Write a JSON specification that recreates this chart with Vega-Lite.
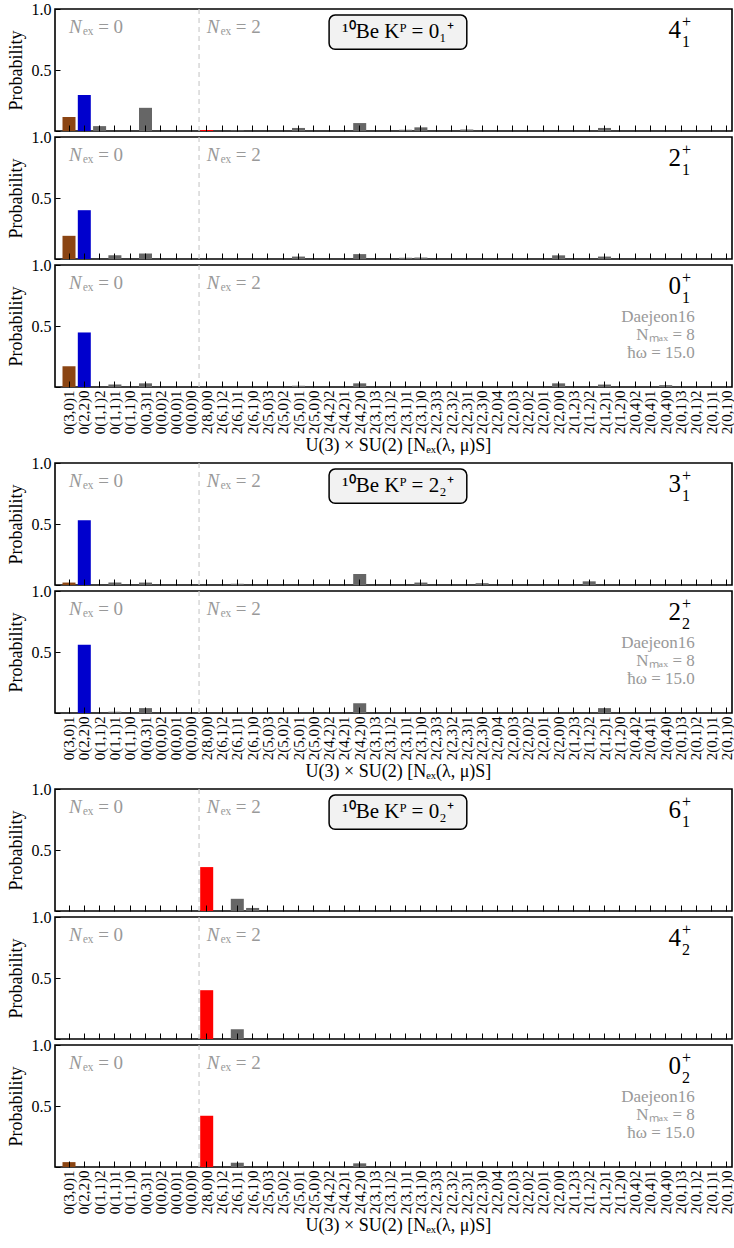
{
  "$schema": "https://vega.github.io/schema/vega-lite/v6.json",
  "padding": {"left": 6, "top": 0, "right": 0, "bottom": 0},
  "config": {
    "font": "Liberation Serif",
    "text": {"font": "Liberation Serif"},
    "view": {"stroke": "#000000", "strokeWidth": 1.6},
    "axis": {"labelFont": "Liberation Serif", "titleFont": "Liberation Serif", "labelColor": "#000", "titleColor": "#000", "tickColor": "#000", "titleFontWeight": "normal", "grid": false, "domain": false}
  },
  "datasets": {
    "probs": [
      {"panel": "4_1", "state": "0(3,0)1", "prob": 0.115},
      {"panel": "4_1", "state": "0(2,2)0", "prob": 0.295},
      {"panel": "4_1", "state": "0(1,1)2", "prob": 0.04},
      {"panel": "4_1", "state": "0(0,3)1", "prob": 0.19},
      {"panel": "4_1", "state": "2(8,0)0", "prob": 0.008},
      {"panel": "4_1", "state": "2(6,1)1", "prob": 0.005},
      {"panel": "4_1", "state": "2(5,0)1", "prob": 0.025},
      {"panel": "4_1", "state": "2(4,2)0", "prob": 0.065},
      {"panel": "4_1", "state": "2(3,1)1", "prob": 0.01},
      {"panel": "4_1", "state": "2(3,1)0", "prob": 0.03},
      {"panel": "4_1", "state": "2(2,3)1", "prob": 0.012},
      {"panel": "4_1", "state": "2(1,2)1", "prob": 0.025},
      {"panel": "2_1", "state": "0(3,0)1", "prob": 0.19},
      {"panel": "2_1", "state": "0(2,2)0", "prob": 0.4},
      {"panel": "2_1", "state": "0(1,1)1", "prob": 0.03},
      {"panel": "2_1", "state": "0(0,3)1", "prob": 0.045},
      {"panel": "2_1", "state": "2(5,0)1", "prob": 0.02},
      {"panel": "2_1", "state": "2(4,2)0", "prob": 0.04},
      {"panel": "2_1", "state": "2(3,1)1", "prob": 0.01},
      {"panel": "2_1", "state": "2(3,1)0", "prob": 0.012},
      {"panel": "2_1", "state": "2(2,0)0", "prob": 0.03},
      {"panel": "2_1", "state": "2(1,2)1", "prob": 0.02},
      {"panel": "0_1", "state": "0(3,0)1", "prob": 0.17},
      {"panel": "0_1", "state": "0(2,2)0", "prob": 0.447},
      {"panel": "0_1", "state": "0(1,1)1", "prob": 0.02},
      {"panel": "0_1", "state": "0(0,3)1", "prob": 0.03},
      {"panel": "0_1", "state": "2(5,0)1", "prob": 0.01},
      {"panel": "0_1", "state": "2(4,2)0", "prob": 0.03},
      {"panel": "0_1", "state": "2(2,0)0", "prob": 0.03},
      {"panel": "0_1", "state": "2(1,2)1", "prob": 0.02},
      {"panel": "0_1", "state": "2(0,4)0", "prob": 0.015},
      {"panel": "3_1", "state": "0(3,0)1", "prob": 0.02},
      {"panel": "3_1", "state": "0(2,2)0", "prob": 0.53},
      {"panel": "3_1", "state": "0(1,1)1", "prob": 0.02},
      {"panel": "3_1", "state": "0(0,3)1", "prob": 0.02},
      {"panel": "3_1", "state": "2(6,1)1", "prob": 0.01},
      {"panel": "3_1", "state": "2(4,2)0", "prob": 0.09},
      {"panel": "3_1", "state": "2(3,1)0", "prob": 0.02},
      {"panel": "3_1", "state": "2(2,3)0", "prob": 0.015},
      {"panel": "3_1", "state": "2(1,2)2", "prob": 0.03},
      {"panel": "2_2", "state": "0(2,2)0", "prob": 0.56},
      {"panel": "2_2", "state": "0(1,1)1", "prob": 0.01},
      {"panel": "2_2", "state": "0(0,3)1", "prob": 0.04},
      {"panel": "2_2", "state": "2(4,2)0", "prob": 0.08},
      {"panel": "2_2", "state": "2(1,2)1", "prob": 0.04},
      {"panel": "6_1", "state": "2(8,0)0", "prob": 0.36},
      {"panel": "6_1", "state": "2(6,1)1", "prob": 0.1},
      {"panel": "6_1", "state": "2(6,1)0", "prob": 0.025},
      {"panel": "4_2", "state": "2(8,0)0", "prob": 0.4},
      {"panel": "4_2", "state": "2(6,1)1", "prob": 0.08},
      {"panel": "0_2", "state": "0(3,0)1", "prob": 0.04},
      {"panel": "0_2", "state": "2(8,0)0", "prob": 0.42},
      {"panel": "0_2", "state": "2(6,1)1", "prob": 0.035},
      {"panel": "0_2", "state": "2(4,2)0", "prob": 0.03}
    ]
  },
  "spacing": -2,
  "resolve": {"scale": {"x": "independent", "y": "independent"}},
  "vconcat": [
    {
      "spacing": 6, "bounds": "flush",
      "resolve": {"scale": {"x": "independent", "y": "independent"}},
      "vconcat": [
        {
          "width": 677, "height": 122,
          "layer": [
            {"data": {"name": "probs"}, "transform": [{"filter": "datum.panel === '4_1'"}],
             "mark": {"type": "bar", "width": {"band": 0.85}},
             "encoding": {
               "x": {"field": "state", "type": "nominal", "scale": {"domain": ["0(3,0)1","0(2,2)0","0(1,1)2","0(1,1)1","0(1,1)0","0(0,3)1","0(0,0)2","0(0,0)1","0(0,0)0","2(8,0)0","2(6,1)2","2(6,1)1","2(6,1)0","2(5,0)3","2(5,0)2","2(5,0)1","2(5,0)0","2(4,2)2","2(4,2)1","2(4,2)0","2(3,1)3","2(3,1)2","2(3,1)1","2(3,1)0","2(2,3)3","2(2,3)2","2(2,3)1","2(2,3)0","2(2,0)4","2(2,0)3","2(2,0)2","2(2,0)1","2(2,0)0","2(1,2)3","2(1,2)2","2(1,2)1","2(1,2)0","2(0,4)2","2(0,4)1","2(0,4)0","2(0,1)3","2(0,1)2","2(0,1)1","2(0,1)0"], "range": [6.35, 679.55], "paddingInner": 0, "paddingOuter": 0},
                 "axis": {"title": null, "labels": false, "tickSize": -6, "zindex": 1}},
               "y": {"field": "prob", "type": "quantitative", "scale": {"domain": [0, 1], "nice": false},
                 "axis": {"title": "Probability", "titleFontSize": 18, "titlePadding": 6, "values": [0, 0.125, 0.25, 0.375, 0.5, 0.625, 0.75, 0.875, 1], "labelExpr": "datum.value === 0.5 || datum.value === 1 ? format(datum.value, '.1f') : ''", "labelFontSize": 16, "tickSize": -5, "labelPadding": 9, "zindex": 1}},
               "color": {"condition": [{"test": "datum.state === '0(3,0)1'", "value": "#8B4513"}, {"test": "datum.state === '0(2,2)0'", "value": "#0000CD"}, {"test": "datum.state === '2(8,0)0'", "value": "#FF0000"}], "value": "#666666"}
             }},
            {"data": {"values": [{}]}, "mark": {"type": "rule", "color": "#cccccc", "strokeDash": [5, 4], "strokeWidth": 1.2},
             "encoding": {"x": {"datum": "2(8,0)0", "bandPosition": 0}}},
            {"data": {"values": [{}]}, "mark": {"type": "text", "text": "N", "fontStyle": "italic", "align": "left", "baseline": "alphabetic", "fontSize": 19, "color": "#999999"},
             "encoding": {"x": {"datum": "0(3,0)1", "bandPosition": 0.5}, "y": {"datum": 0.8}}},
            {"data": {"values": [{}]}, "mark": {"type": "text", "text": "ₑₓ = 0", "align": "left", "baseline": "alphabetic", "fontSize": 19, "dx": 14, "color": "#999999"},
             "encoding": {"x": {"datum": "0(3,0)1", "bandPosition": 0.5}, "y": {"datum": 0.8}}},
            {"data": {"values": [{}]}, "mark": {"type": "text", "text": "N", "fontStyle": "italic", "align": "left", "baseline": "alphabetic", "fontSize": 19, "color": "#999999"},
             "encoding": {"x": {"datum": "2(8,0)0", "bandPosition": 0.5}, "y": {"datum": 0.8}}},
            {"data": {"values": [{}]}, "mark": {"type": "text", "text": "ₑₓ = 2", "align": "left", "baseline": "alphabetic", "fontSize": 19, "dx": 14, "color": "#999999"},
             "encoding": {"x": {"datum": "2(8,0)0", "bandPosition": 0.5}, "y": {"datum": 0.8}}},
            {"data": {"values": [{}]}, "mark": {"type": "rect", "fill": "#f2f2f2", "stroke": "#000000", "strokeWidth": 1.5, "cornerRadius": 6},
             "encoding": {"x": {"datum": "2(4,2)2", "bandPosition": 0.5}, "x2": {"datum": "2(2,3)1", "bandPosition": 0.5}, "y": {"datum": 0.95}, "y2": {"datum": 0.67}}},
            {"data": {"values": [{}]}, "mark": {"type": "text", "text": "¹⁰Be Kᴾ = 0₁⁺", "align": "center", "baseline": "middle", "fontSize": 21, "color": "#000"},
             "encoding": {"x": {"datum": "2(3,1)1", "bandPosition": 0}, "y": {"datum": 0.81}}},
            {"data": {"values": [{}]}, "mark": {"type": "text", "text": "4", "align": "right", "baseline": "alphabetic", "fontSize": 25, "color": "#000"},
             "encoding": {"x": {"datum": "2(0,1)3", "bandPosition": 0.5}, "y": {"datum": 0.76}}},
            {"data": {"values": [{}]}, "mark": {"type": "text", "text": "+", "align": "left", "baseline": "middle", "fontSize": 16, "dx": 1, "color": "#000"},
             "encoding": {"x": {"datum": "2(0,1)3", "bandPosition": 0.5}, "y": {"datum": 0.895}}},
            {"data": {"values": [{}]}, "mark": {"type": "text", "text": "1", "align": "left", "baseline": "alphabetic", "fontSize": 16, "dx": 1, "color": "#000"},
             "encoding": {"x": {"datum": "2(0,1)3", "bandPosition": 0.5}, "y": {"datum": 0.69}}}
          ]
        },
        {
          "width": 677, "height": 122,
          "layer": [
            {"data": {"name": "probs"}, "transform": [{"filter": "datum.panel === '2_1'"}],
             "mark": {"type": "bar", "width": {"band": 0.85}},
             "encoding": {
               "x": {"field": "state", "type": "nominal", "scale": {"domain": ["0(3,0)1","0(2,2)0","0(1,1)2","0(1,1)1","0(1,1)0","0(0,3)1","0(0,0)2","0(0,0)1","0(0,0)0","2(8,0)0","2(6,1)2","2(6,1)1","2(6,1)0","2(5,0)3","2(5,0)2","2(5,0)1","2(5,0)0","2(4,2)2","2(4,2)1","2(4,2)0","2(3,1)3","2(3,1)2","2(3,1)1","2(3,1)0","2(2,3)3","2(2,3)2","2(2,3)1","2(2,3)0","2(2,0)4","2(2,0)3","2(2,0)2","2(2,0)1","2(2,0)0","2(1,2)3","2(1,2)2","2(1,2)1","2(1,2)0","2(0,4)2","2(0,4)1","2(0,4)0","2(0,1)3","2(0,1)2","2(0,1)1","2(0,1)0"], "range": [6.35, 679.55], "paddingInner": 0, "paddingOuter": 0},
                 "axis": {"title": null, "labels": false, "tickSize": -6, "zindex": 1}},
               "y": {"field": "prob", "type": "quantitative", "scale": {"domain": [0, 1], "nice": false},
                 "axis": {"title": "Probability", "titleFontSize": 18, "titlePadding": 6, "values": [0, 0.125, 0.25, 0.375, 0.5, 0.625, 0.75, 0.875, 1], "labelExpr": "datum.value === 0.5 || datum.value === 1 ? format(datum.value, '.1f') : ''", "labelFontSize": 16, "tickSize": -5, "labelPadding": 9, "zindex": 1}},
               "color": {"condition": [{"test": "datum.state === '0(3,0)1'", "value": "#8B4513"}, {"test": "datum.state === '0(2,2)0'", "value": "#0000CD"}, {"test": "datum.state === '2(8,0)0'", "value": "#FF0000"}], "value": "#666666"}
             }},
            {"data": {"values": [{}]}, "mark": {"type": "rule", "color": "#cccccc", "strokeDash": [5, 4], "strokeWidth": 1.2},
             "encoding": {"x": {"datum": "2(8,0)0", "bandPosition": 0}}},
            {"data": {"values": [{}]}, "mark": {"type": "text", "text": "N", "fontStyle": "italic", "align": "left", "baseline": "alphabetic", "fontSize": 19, "color": "#999999"},
             "encoding": {"x": {"datum": "0(3,0)1", "bandPosition": 0.5}, "y": {"datum": 0.8}}},
            {"data": {"values": [{}]}, "mark": {"type": "text", "text": "ₑₓ = 0", "align": "left", "baseline": "alphabetic", "fontSize": 19, "dx": 14, "color": "#999999"},
             "encoding": {"x": {"datum": "0(3,0)1", "bandPosition": 0.5}, "y": {"datum": 0.8}}},
            {"data": {"values": [{}]}, "mark": {"type": "text", "text": "N", "fontStyle": "italic", "align": "left", "baseline": "alphabetic", "fontSize": 19, "color": "#999999"},
             "encoding": {"x": {"datum": "2(8,0)0", "bandPosition": 0.5}, "y": {"datum": 0.8}}},
            {"data": {"values": [{}]}, "mark": {"type": "text", "text": "ₑₓ = 2", "align": "left", "baseline": "alphabetic", "fontSize": 19, "dx": 14, "color": "#999999"},
             "encoding": {"x": {"datum": "2(8,0)0", "bandPosition": 0.5}, "y": {"datum": 0.8}}},
            {"data": {"values": [{}]}, "mark": {"type": "text", "text": "2", "align": "right", "baseline": "alphabetic", "fontSize": 25, "color": "#000"},
             "encoding": {"x": {"datum": "2(0,1)3", "bandPosition": 0.5}, "y": {"datum": 0.76}}},
            {"data": {"values": [{}]}, "mark": {"type": "text", "text": "+", "align": "left", "baseline": "middle", "fontSize": 16, "dx": 1, "color": "#000"},
             "encoding": {"x": {"datum": "2(0,1)3", "bandPosition": 0.5}, "y": {"datum": 0.895}}},
            {"data": {"values": [{}]}, "mark": {"type": "text", "text": "1", "align": "left", "baseline": "alphabetic", "fontSize": 16, "dx": 1, "color": "#000"},
             "encoding": {"x": {"datum": "2(0,1)3", "bandPosition": 0.5}, "y": {"datum": 0.69}}}
          ]
        },
        {
          "width": 677, "height": 122,
          "layer": [
            {"data": {"name": "probs"}, "transform": [{"filter": "datum.panel === '0_1'"}],
             "mark": {"type": "bar", "width": {"band": 0.85}},
             "encoding": {
               "x": {"field": "state", "type": "nominal", "scale": {"domain": ["0(3,0)1","0(2,2)0","0(1,1)2","0(1,1)1","0(1,1)0","0(0,3)1","0(0,0)2","0(0,0)1","0(0,0)0","2(8,0)0","2(6,1)2","2(6,1)1","2(6,1)0","2(5,0)3","2(5,0)2","2(5,0)1","2(5,0)0","2(4,2)2","2(4,2)1","2(4,2)0","2(3,1)3","2(3,1)2","2(3,1)1","2(3,1)0","2(2,3)3","2(2,3)2","2(2,3)1","2(2,3)0","2(2,0)4","2(2,0)3","2(2,0)2","2(2,0)1","2(2,0)0","2(1,2)3","2(1,2)2","2(1,2)1","2(1,2)0","2(0,4)2","2(0,4)1","2(0,4)0","2(0,1)3","2(0,1)2","2(0,1)1","2(0,1)0"], "range": [6.35, 679.55], "paddingInner": 0, "paddingOuter": 0},
                 "axis": {"title": "U(3) × SU(2) [Nₑₓ(λ, μ)S]", "titleFontSize": 18, "titlePadding": 3, "labelAngle": 270, "labelFontSize": 15, "labelPadding": 9, "tickSize": -6, "zindex": 1}},
               "y": {"field": "prob", "type": "quantitative", "scale": {"domain": [0, 1], "nice": false},
                 "axis": {"title": "Probability", "titleFontSize": 18, "titlePadding": 6, "values": [0, 0.125, 0.25, 0.375, 0.5, 0.625, 0.75, 0.875, 1], "labelExpr": "datum.value === 0.5 || datum.value === 1 ? format(datum.value, '.1f') : ''", "labelFontSize": 16, "tickSize": -5, "labelPadding": 9, "zindex": 1}},
               "color": {"condition": [{"test": "datum.state === '0(3,0)1'", "value": "#8B4513"}, {"test": "datum.state === '0(2,2)0'", "value": "#0000CD"}, {"test": "datum.state === '2(8,0)0'", "value": "#FF0000"}], "value": "#666666"}
             }},
            {"data": {"values": [{}]}, "mark": {"type": "rule", "color": "#cccccc", "strokeDash": [5, 4], "strokeWidth": 1.2},
             "encoding": {"x": {"datum": "2(8,0)0", "bandPosition": 0}}},
            {"data": {"values": [{}]}, "mark": {"type": "text", "text": "N", "fontStyle": "italic", "align": "left", "baseline": "alphabetic", "fontSize": 19, "color": "#999999"},
             "encoding": {"x": {"datum": "0(3,0)1", "bandPosition": 0.5}, "y": {"datum": 0.8}}},
            {"data": {"values": [{}]}, "mark": {"type": "text", "text": "ₑₓ = 0", "align": "left", "baseline": "alphabetic", "fontSize": 19, "dx": 14, "color": "#999999"},
             "encoding": {"x": {"datum": "0(3,0)1", "bandPosition": 0.5}, "y": {"datum": 0.8}}},
            {"data": {"values": [{}]}, "mark": {"type": "text", "text": "N", "fontStyle": "italic", "align": "left", "baseline": "alphabetic", "fontSize": 19, "color": "#999999"},
             "encoding": {"x": {"datum": "2(8,0)0", "bandPosition": 0.5}, "y": {"datum": 0.8}}},
            {"data": {"values": [{}]}, "mark": {"type": "text", "text": "ₑₓ = 2", "align": "left", "baseline": "alphabetic", "fontSize": 19, "dx": 14, "color": "#999999"},
             "encoding": {"x": {"datum": "2(8,0)0", "bandPosition": 0.5}, "y": {"datum": 0.8}}},
            {"data": {"values": [{}]}, "mark": {"type": "text", "text": "0", "align": "right", "baseline": "alphabetic", "fontSize": 25, "color": "#000"},
             "encoding": {"x": {"datum": "2(0,1)3", "bandPosition": 0.5}, "y": {"datum": 0.76}}},
            {"data": {"values": [{}]}, "mark": {"type": "text", "text": "+", "align": "left", "baseline": "middle", "fontSize": 16, "dx": 1, "color": "#000"},
             "encoding": {"x": {"datum": "2(0,1)3", "bandPosition": 0.5}, "y": {"datum": 0.895}}},
            {"data": {"values": [{}]}, "mark": {"type": "text", "text": "1", "align": "left", "baseline": "alphabetic", "fontSize": 16, "dx": 1, "color": "#000"},
             "encoding": {"x": {"datum": "2(0,1)3", "bandPosition": 0.5}, "y": {"datum": 0.69}}},
            {"data": {"values": [{}]}, "mark": {"type": "text", "text": ["Daejeon16", "Nₘₐₓ = 8", "ħω = 15.0"], "align": "right", "baseline": "alphabetic", "fontSize": 17, "lineHeight": 18, "color": "#999999"},
             "encoding": {"x": {"datum": "2(0,1)2", "bandPosition": 0.4}, "y": {"datum": 0.53}}}
          ]
        }
      ]
    },
    {
      "spacing": 6, "bounds": "flush",
      "resolve": {"scale": {"x": "independent", "y": "independent"}},
      "vconcat": [
        {
          "width": 677, "height": 122,
          "layer": [
            {"data": {"name": "probs"}, "transform": [{"filter": "datum.panel === '3_1'"}],
             "mark": {"type": "bar", "width": {"band": 0.85}},
             "encoding": {
               "x": {"field": "state", "type": "nominal", "scale": {"domain": ["0(3,0)1","0(2,2)0","0(1,1)2","0(1,1)1","0(1,1)0","0(0,3)1","0(0,0)2","0(0,0)1","0(0,0)0","2(8,0)0","2(6,1)2","2(6,1)1","2(6,1)0","2(5,0)3","2(5,0)2","2(5,0)1","2(5,0)0","2(4,2)2","2(4,2)1","2(4,2)0","2(3,1)3","2(3,1)2","2(3,1)1","2(3,1)0","2(2,3)3","2(2,3)2","2(2,3)1","2(2,3)0","2(2,0)4","2(2,0)3","2(2,0)2","2(2,0)1","2(2,0)0","2(1,2)3","2(1,2)2","2(1,2)1","2(1,2)0","2(0,4)2","2(0,4)1","2(0,4)0","2(0,1)3","2(0,1)2","2(0,1)1","2(0,1)0"], "range": [6.35, 679.55], "paddingInner": 0, "paddingOuter": 0},
                 "axis": {"title": null, "labels": false, "tickSize": -6, "zindex": 1}},
               "y": {"field": "prob", "type": "quantitative", "scale": {"domain": [0, 1], "nice": false},
                 "axis": {"title": "Probability", "titleFontSize": 18, "titlePadding": 6, "values": [0, 0.125, 0.25, 0.375, 0.5, 0.625, 0.75, 0.875, 1], "labelExpr": "datum.value === 0.5 || datum.value === 1 ? format(datum.value, '.1f') : ''", "labelFontSize": 16, "tickSize": -5, "labelPadding": 9, "zindex": 1}},
               "color": {"condition": [{"test": "datum.state === '0(3,0)1'", "value": "#8B4513"}, {"test": "datum.state === '0(2,2)0'", "value": "#0000CD"}, {"test": "datum.state === '2(8,0)0'", "value": "#FF0000"}], "value": "#666666"}
             }},
            {"data": {"values": [{}]}, "mark": {"type": "rule", "color": "#cccccc", "strokeDash": [5, 4], "strokeWidth": 1.2},
             "encoding": {"x": {"datum": "2(8,0)0", "bandPosition": 0}}},
            {"data": {"values": [{}]}, "mark": {"type": "text", "text": "N", "fontStyle": "italic", "align": "left", "baseline": "alphabetic", "fontSize": 19, "color": "#999999"},
             "encoding": {"x": {"datum": "0(3,0)1", "bandPosition": 0.5}, "y": {"datum": 0.8}}},
            {"data": {"values": [{}]}, "mark": {"type": "text", "text": "ₑₓ = 0", "align": "left", "baseline": "alphabetic", "fontSize": 19, "dx": 14, "color": "#999999"},
             "encoding": {"x": {"datum": "0(3,0)1", "bandPosition": 0.5}, "y": {"datum": 0.8}}},
            {"data": {"values": [{}]}, "mark": {"type": "text", "text": "N", "fontStyle": "italic", "align": "left", "baseline": "alphabetic", "fontSize": 19, "color": "#999999"},
             "encoding": {"x": {"datum": "2(8,0)0", "bandPosition": 0.5}, "y": {"datum": 0.8}}},
            {"data": {"values": [{}]}, "mark": {"type": "text", "text": "ₑₓ = 2", "align": "left", "baseline": "alphabetic", "fontSize": 19, "dx": 14, "color": "#999999"},
             "encoding": {"x": {"datum": "2(8,0)0", "bandPosition": 0.5}, "y": {"datum": 0.8}}},
            {"data": {"values": [{}]}, "mark": {"type": "rect", "fill": "#f2f2f2", "stroke": "#000000", "strokeWidth": 1.5, "cornerRadius": 6},
             "encoding": {"x": {"datum": "2(4,2)2", "bandPosition": 0.5}, "x2": {"datum": "2(2,3)1", "bandPosition": 0.5}, "y": {"datum": 0.95}, "y2": {"datum": 0.67}}},
            {"data": {"values": [{}]}, "mark": {"type": "text", "text": "¹⁰Be Kᴾ = 2₂⁺", "align": "center", "baseline": "middle", "fontSize": 21, "color": "#000"},
             "encoding": {"x": {"datum": "2(3,1)1", "bandPosition": 0}, "y": {"datum": 0.81}}},
            {"data": {"values": [{}]}, "mark": {"type": "text", "text": "3", "align": "right", "baseline": "alphabetic", "fontSize": 25, "color": "#000"},
             "encoding": {"x": {"datum": "2(0,1)3", "bandPosition": 0.5}, "y": {"datum": 0.76}}},
            {"data": {"values": [{}]}, "mark": {"type": "text", "text": "+", "align": "left", "baseline": "middle", "fontSize": 16, "dx": 1, "color": "#000"},
             "encoding": {"x": {"datum": "2(0,1)3", "bandPosition": 0.5}, "y": {"datum": 0.895}}},
            {"data": {"values": [{}]}, "mark": {"type": "text", "text": "1", "align": "left", "baseline": "alphabetic", "fontSize": 16, "dx": 1, "color": "#000"},
             "encoding": {"x": {"datum": "2(0,1)3", "bandPosition": 0.5}, "y": {"datum": 0.69}}}
          ]
        },
        {
          "width": 677, "height": 122,
          "layer": [
            {"data": {"name": "probs"}, "transform": [{"filter": "datum.panel === '2_2'"}],
             "mark": {"type": "bar", "width": {"band": 0.85}},
             "encoding": {
               "x": {"field": "state", "type": "nominal", "scale": {"domain": ["0(3,0)1","0(2,2)0","0(1,1)2","0(1,1)1","0(1,1)0","0(0,3)1","0(0,0)2","0(0,0)1","0(0,0)0","2(8,0)0","2(6,1)2","2(6,1)1","2(6,1)0","2(5,0)3","2(5,0)2","2(5,0)1","2(5,0)0","2(4,2)2","2(4,2)1","2(4,2)0","2(3,1)3","2(3,1)2","2(3,1)1","2(3,1)0","2(2,3)3","2(2,3)2","2(2,3)1","2(2,3)0","2(2,0)4","2(2,0)3","2(2,0)2","2(2,0)1","2(2,0)0","2(1,2)3","2(1,2)2","2(1,2)1","2(1,2)0","2(0,4)2","2(0,4)1","2(0,4)0","2(0,1)3","2(0,1)2","2(0,1)1","2(0,1)0"], "range": [6.35, 679.55], "paddingInner": 0, "paddingOuter": 0},
                 "axis": {"title": "U(3) × SU(2) [Nₑₓ(λ, μ)S]", "titleFontSize": 18, "titlePadding": 3, "labelAngle": 270, "labelFontSize": 15, "labelPadding": 9, "tickSize": -6, "zindex": 1}},
               "y": {"field": "prob", "type": "quantitative", "scale": {"domain": [0, 1], "nice": false},
                 "axis": {"title": "Probability", "titleFontSize": 18, "titlePadding": 6, "values": [0, 0.125, 0.25, 0.375, 0.5, 0.625, 0.75, 0.875, 1], "labelExpr": "datum.value === 0.5 || datum.value === 1 ? format(datum.value, '.1f') : ''", "labelFontSize": 16, "tickSize": -5, "labelPadding": 9, "zindex": 1}},
               "color": {"condition": [{"test": "datum.state === '0(3,0)1'", "value": "#8B4513"}, {"test": "datum.state === '0(2,2)0'", "value": "#0000CD"}, {"test": "datum.state === '2(8,0)0'", "value": "#FF0000"}], "value": "#666666"}
             }},
            {"data": {"values": [{}]}, "mark": {"type": "rule", "color": "#cccccc", "strokeDash": [5, 4], "strokeWidth": 1.2},
             "encoding": {"x": {"datum": "2(8,0)0", "bandPosition": 0}}},
            {"data": {"values": [{}]}, "mark": {"type": "text", "text": "N", "fontStyle": "italic", "align": "left", "baseline": "alphabetic", "fontSize": 19, "color": "#999999"},
             "encoding": {"x": {"datum": "0(3,0)1", "bandPosition": 0.5}, "y": {"datum": 0.8}}},
            {"data": {"values": [{}]}, "mark": {"type": "text", "text": "ₑₓ = 0", "align": "left", "baseline": "alphabetic", "fontSize": 19, "dx": 14, "color": "#999999"},
             "encoding": {"x": {"datum": "0(3,0)1", "bandPosition": 0.5}, "y": {"datum": 0.8}}},
            {"data": {"values": [{}]}, "mark": {"type": "text", "text": "N", "fontStyle": "italic", "align": "left", "baseline": "alphabetic", "fontSize": 19, "color": "#999999"},
             "encoding": {"x": {"datum": "2(8,0)0", "bandPosition": 0.5}, "y": {"datum": 0.8}}},
            {"data": {"values": [{}]}, "mark": {"type": "text", "text": "ₑₓ = 2", "align": "left", "baseline": "alphabetic", "fontSize": 19, "dx": 14, "color": "#999999"},
             "encoding": {"x": {"datum": "2(8,0)0", "bandPosition": 0.5}, "y": {"datum": 0.8}}},
            {"data": {"values": [{}]}, "mark": {"type": "text", "text": "2", "align": "right", "baseline": "alphabetic", "fontSize": 25, "color": "#000"},
             "encoding": {"x": {"datum": "2(0,1)3", "bandPosition": 0.5}, "y": {"datum": 0.76}}},
            {"data": {"values": [{}]}, "mark": {"type": "text", "text": "+", "align": "left", "baseline": "middle", "fontSize": 16, "dx": 1, "color": "#000"},
             "encoding": {"x": {"datum": "2(0,1)3", "bandPosition": 0.5}, "y": {"datum": 0.895}}},
            {"data": {"values": [{}]}, "mark": {"type": "text", "text": "2", "align": "left", "baseline": "alphabetic", "fontSize": 16, "dx": 1, "color": "#000"},
             "encoding": {"x": {"datum": "2(0,1)3", "bandPosition": 0.5}, "y": {"datum": 0.69}}},
            {"data": {"values": [{}]}, "mark": {"type": "text", "text": ["Daejeon16", "Nₘₐₓ = 8", "ħω = 15.0"], "align": "right", "baseline": "alphabetic", "fontSize": 17, "lineHeight": 18, "color": "#999999"},
             "encoding": {"x": {"datum": "2(0,1)2", "bandPosition": 0.4}, "y": {"datum": 0.53}}}
          ]
        }
      ]
    },
    {
      "spacing": 6, "bounds": "flush",
      "resolve": {"scale": {"x": "independent", "y": "independent"}},
      "vconcat": [
        {
          "width": 677, "height": 122,
          "layer": [
            {"data": {"name": "probs"}, "transform": [{"filter": "datum.panel === '6_1'"}],
             "mark": {"type": "bar", "width": {"band": 0.85}},
             "encoding": {
               "x": {"field": "state", "type": "nominal", "scale": {"domain": ["0(3,0)1","0(2,2)0","0(1,1)2","0(1,1)1","0(1,1)0","0(0,3)1","0(0,0)2","0(0,0)1","0(0,0)0","2(8,0)0","2(6,1)2","2(6,1)1","2(6,1)0","2(5,0)3","2(5,0)2","2(5,0)1","2(5,0)0","2(4,2)2","2(4,2)1","2(4,2)0","2(3,1)3","2(3,1)2","2(3,1)1","2(3,1)0","2(2,3)3","2(2,3)2","2(2,3)1","2(2,3)0","2(2,0)4","2(2,0)3","2(2,0)2","2(2,0)1","2(2,0)0","2(1,2)3","2(1,2)2","2(1,2)1","2(1,2)0","2(0,4)2","2(0,4)1","2(0,4)0","2(0,1)3","2(0,1)2","2(0,1)1","2(0,1)0"], "range": [6.35, 679.55], "paddingInner": 0, "paddingOuter": 0},
                 "axis": {"title": null, "labels": false, "tickSize": -6, "zindex": 1}},
               "y": {"field": "prob", "type": "quantitative", "scale": {"domain": [0, 1], "nice": false},
                 "axis": {"title": "Probability", "titleFontSize": 18, "titlePadding": 6, "values": [0, 0.125, 0.25, 0.375, 0.5, 0.625, 0.75, 0.875, 1], "labelExpr": "datum.value === 0.5 || datum.value === 1 ? format(datum.value, '.1f') : ''", "labelFontSize": 16, "tickSize": -5, "labelPadding": 9, "zindex": 1}},
               "color": {"condition": [{"test": "datum.state === '0(3,0)1'", "value": "#8B4513"}, {"test": "datum.state === '0(2,2)0'", "value": "#0000CD"}, {"test": "datum.state === '2(8,0)0'", "value": "#FF0000"}], "value": "#666666"}
             }},
            {"data": {"values": [{}]}, "mark": {"type": "rule", "color": "#cccccc", "strokeDash": [5, 4], "strokeWidth": 1.2},
             "encoding": {"x": {"datum": "2(8,0)0", "bandPosition": 0}}},
            {"data": {"values": [{}]}, "mark": {"type": "text", "text": "N", "fontStyle": "italic", "align": "left", "baseline": "alphabetic", "fontSize": 19, "color": "#999999"},
             "encoding": {"x": {"datum": "0(3,0)1", "bandPosition": 0.5}, "y": {"datum": 0.8}}},
            {"data": {"values": [{}]}, "mark": {"type": "text", "text": "ₑₓ = 0", "align": "left", "baseline": "alphabetic", "fontSize": 19, "dx": 14, "color": "#999999"},
             "encoding": {"x": {"datum": "0(3,0)1", "bandPosition": 0.5}, "y": {"datum": 0.8}}},
            {"data": {"values": [{}]}, "mark": {"type": "text", "text": "N", "fontStyle": "italic", "align": "left", "baseline": "alphabetic", "fontSize": 19, "color": "#999999"},
             "encoding": {"x": {"datum": "2(8,0)0", "bandPosition": 0.5}, "y": {"datum": 0.8}}},
            {"data": {"values": [{}]}, "mark": {"type": "text", "text": "ₑₓ = 2", "align": "left", "baseline": "alphabetic", "fontSize": 19, "dx": 14, "color": "#999999"},
             "encoding": {"x": {"datum": "2(8,0)0", "bandPosition": 0.5}, "y": {"datum": 0.8}}},
            {"data": {"values": [{}]}, "mark": {"type": "rect", "fill": "#f2f2f2", "stroke": "#000000", "strokeWidth": 1.5, "cornerRadius": 6},
             "encoding": {"x": {"datum": "2(4,2)2", "bandPosition": 0.5}, "x2": {"datum": "2(2,3)1", "bandPosition": 0.5}, "y": {"datum": 0.95}, "y2": {"datum": 0.67}}},
            {"data": {"values": [{}]}, "mark": {"type": "text", "text": "¹⁰Be Kᴾ = 0₂⁺", "align": "center", "baseline": "middle", "fontSize": 21, "color": "#000"},
             "encoding": {"x": {"datum": "2(3,1)1", "bandPosition": 0}, "y": {"datum": 0.81}}},
            {"data": {"values": [{}]}, "mark": {"type": "text", "text": "6", "align": "right", "baseline": "alphabetic", "fontSize": 25, "color": "#000"},
             "encoding": {"x": {"datum": "2(0,1)3", "bandPosition": 0.5}, "y": {"datum": 0.76}}},
            {"data": {"values": [{}]}, "mark": {"type": "text", "text": "+", "align": "left", "baseline": "middle", "fontSize": 16, "dx": 1, "color": "#000"},
             "encoding": {"x": {"datum": "2(0,1)3", "bandPosition": 0.5}, "y": {"datum": 0.895}}},
            {"data": {"values": [{}]}, "mark": {"type": "text", "text": "1", "align": "left", "baseline": "alphabetic", "fontSize": 16, "dx": 1, "color": "#000"},
             "encoding": {"x": {"datum": "2(0,1)3", "bandPosition": 0.5}, "y": {"datum": 0.69}}}
          ]
        },
        {
          "width": 677, "height": 122,
          "layer": [
            {"data": {"name": "probs"}, "transform": [{"filter": "datum.panel === '4_2'"}],
             "mark": {"type": "bar", "width": {"band": 0.85}},
             "encoding": {
               "x": {"field": "state", "type": "nominal", "scale": {"domain": ["0(3,0)1","0(2,2)0","0(1,1)2","0(1,1)1","0(1,1)0","0(0,3)1","0(0,0)2","0(0,0)1","0(0,0)0","2(8,0)0","2(6,1)2","2(6,1)1","2(6,1)0","2(5,0)3","2(5,0)2","2(5,0)1","2(5,0)0","2(4,2)2","2(4,2)1","2(4,2)0","2(3,1)3","2(3,1)2","2(3,1)1","2(3,1)0","2(2,3)3","2(2,3)2","2(2,3)1","2(2,3)0","2(2,0)4","2(2,0)3","2(2,0)2","2(2,0)1","2(2,0)0","2(1,2)3","2(1,2)2","2(1,2)1","2(1,2)0","2(0,4)2","2(0,4)1","2(0,4)0","2(0,1)3","2(0,1)2","2(0,1)1","2(0,1)0"], "range": [6.35, 679.55], "paddingInner": 0, "paddingOuter": 0},
                 "axis": {"title": null, "labels": false, "tickSize": -6, "zindex": 1}},
               "y": {"field": "prob", "type": "quantitative", "scale": {"domain": [0, 1], "nice": false},
                 "axis": {"title": "Probability", "titleFontSize": 18, "titlePadding": 6, "values": [0, 0.125, 0.25, 0.375, 0.5, 0.625, 0.75, 0.875, 1], "labelExpr": "datum.value === 0.5 || datum.value === 1 ? format(datum.value, '.1f') : ''", "labelFontSize": 16, "tickSize": -5, "labelPadding": 9, "zindex": 1}},
               "color": {"condition": [{"test": "datum.state === '0(3,0)1'", "value": "#8B4513"}, {"test": "datum.state === '0(2,2)0'", "value": "#0000CD"}, {"test": "datum.state === '2(8,0)0'", "value": "#FF0000"}], "value": "#666666"}
             }},
            {"data": {"values": [{}]}, "mark": {"type": "rule", "color": "#cccccc", "strokeDash": [5, 4], "strokeWidth": 1.2},
             "encoding": {"x": {"datum": "2(8,0)0", "bandPosition": 0}}},
            {"data": {"values": [{}]}, "mark": {"type": "text", "text": "N", "fontStyle": "italic", "align": "left", "baseline": "alphabetic", "fontSize": 19, "color": "#999999"},
             "encoding": {"x": {"datum": "0(3,0)1", "bandPosition": 0.5}, "y": {"datum": 0.8}}},
            {"data": {"values": [{}]}, "mark": {"type": "text", "text": "ₑₓ = 0", "align": "left", "baseline": "alphabetic", "fontSize": 19, "dx": 14, "color": "#999999"},
             "encoding": {"x": {"datum": "0(3,0)1", "bandPosition": 0.5}, "y": {"datum": 0.8}}},
            {"data": {"values": [{}]}, "mark": {"type": "text", "text": "N", "fontStyle": "italic", "align": "left", "baseline": "alphabetic", "fontSize": 19, "color": "#999999"},
             "encoding": {"x": {"datum": "2(8,0)0", "bandPosition": 0.5}, "y": {"datum": 0.8}}},
            {"data": {"values": [{}]}, "mark": {"type": "text", "text": "ₑₓ = 2", "align": "left", "baseline": "alphabetic", "fontSize": 19, "dx": 14, "color": "#999999"},
             "encoding": {"x": {"datum": "2(8,0)0", "bandPosition": 0.5}, "y": {"datum": 0.8}}},
            {"data": {"values": [{}]}, "mark": {"type": "text", "text": "4", "align": "right", "baseline": "alphabetic", "fontSize": 25, "color": "#000"},
             "encoding": {"x": {"datum": "2(0,1)3", "bandPosition": 0.5}, "y": {"datum": 0.76}}},
            {"data": {"values": [{}]}, "mark": {"type": "text", "text": "+", "align": "left", "baseline": "middle", "fontSize": 16, "dx": 1, "color": "#000"},
             "encoding": {"x": {"datum": "2(0,1)3", "bandPosition": 0.5}, "y": {"datum": 0.895}}},
            {"data": {"values": [{}]}, "mark": {"type": "text", "text": "2", "align": "left", "baseline": "alphabetic", "fontSize": 16, "dx": 1, "color": "#000"},
             "encoding": {"x": {"datum": "2(0,1)3", "bandPosition": 0.5}, "y": {"datum": 0.69}}}
          ]
        },
        {
          "width": 677, "height": 122,
          "layer": [
            {"data": {"name": "probs"}, "transform": [{"filter": "datum.panel === '0_2'"}],
             "mark": {"type": "bar", "width": {"band": 0.85}},
             "encoding": {
               "x": {"field": "state", "type": "nominal", "scale": {"domain": ["0(3,0)1","0(2,2)0","0(1,1)2","0(1,1)1","0(1,1)0","0(0,3)1","0(0,0)2","0(0,0)1","0(0,0)0","2(8,0)0","2(6,1)2","2(6,1)1","2(6,1)0","2(5,0)3","2(5,0)2","2(5,0)1","2(5,0)0","2(4,2)2","2(4,2)1","2(4,2)0","2(3,1)3","2(3,1)2","2(3,1)1","2(3,1)0","2(2,3)3","2(2,3)2","2(2,3)1","2(2,3)0","2(2,0)4","2(2,0)3","2(2,0)2","2(2,0)1","2(2,0)0","2(1,2)3","2(1,2)2","2(1,2)1","2(1,2)0","2(0,4)2","2(0,4)1","2(0,4)0","2(0,1)3","2(0,1)2","2(0,1)1","2(0,1)0"], "range": [6.35, 679.55], "paddingInner": 0, "paddingOuter": 0},
                 "axis": {"title": "U(3) × SU(2) [Nₑₓ(λ, μ)S]", "titleFontSize": 18, "titlePadding": 3, "labelAngle": 270, "labelFontSize": 15, "labelPadding": 9, "tickSize": -6, "zindex": 1}},
               "y": {"field": "prob", "type": "quantitative", "scale": {"domain": [0, 1], "nice": false},
                 "axis": {"title": "Probability", "titleFontSize": 18, "titlePadding": 6, "values": [0, 0.125, 0.25, 0.375, 0.5, 0.625, 0.75, 0.875, 1], "labelExpr": "datum.value === 0.5 || datum.value === 1 ? format(datum.value, '.1f') : ''", "labelFontSize": 16, "tickSize": -5, "labelPadding": 9, "zindex": 1}},
               "color": {"condition": [{"test": "datum.state === '0(3,0)1'", "value": "#8B4513"}, {"test": "datum.state === '0(2,2)0'", "value": "#0000CD"}, {"test": "datum.state === '2(8,0)0'", "value": "#FF0000"}], "value": "#666666"}
             }},
            {"data": {"values": [{}]}, "mark": {"type": "rule", "color": "#cccccc", "strokeDash": [5, 4], "strokeWidth": 1.2},
             "encoding": {"x": {"datum": "2(8,0)0", "bandPosition": 0}}},
            {"data": {"values": [{}]}, "mark": {"type": "text", "text": "N", "fontStyle": "italic", "align": "left", "baseline": "alphabetic", "fontSize": 19, "color": "#999999"},
             "encoding": {"x": {"datum": "0(3,0)1", "bandPosition": 0.5}, "y": {"datum": 0.8}}},
            {"data": {"values": [{}]}, "mark": {"type": "text", "text": "ₑₓ = 0", "align": "left", "baseline": "alphabetic", "fontSize": 19, "dx": 14, "color": "#999999"},
             "encoding": {"x": {"datum": "0(3,0)1", "bandPosition": 0.5}, "y": {"datum": 0.8}}},
            {"data": {"values": [{}]}, "mark": {"type": "text", "text": "N", "fontStyle": "italic", "align": "left", "baseline": "alphabetic", "fontSize": 19, "color": "#999999"},
             "encoding": {"x": {"datum": "2(8,0)0", "bandPosition": 0.5}, "y": {"datum": 0.8}}},
            {"data": {"values": [{}]}, "mark": {"type": "text", "text": "ₑₓ = 2", "align": "left", "baseline": "alphabetic", "fontSize": 19, "dx": 14, "color": "#999999"},
             "encoding": {"x": {"datum": "2(8,0)0", "bandPosition": 0.5}, "y": {"datum": 0.8}}},
            {"data": {"values": [{}]}, "mark": {"type": "text", "text": "0", "align": "right", "baseline": "alphabetic", "fontSize": 25, "color": "#000"},
             "encoding": {"x": {"datum": "2(0,1)3", "bandPosition": 0.5}, "y": {"datum": 0.76}}},
            {"data": {"values": [{}]}, "mark": {"type": "text", "text": "+", "align": "left", "baseline": "middle", "fontSize": 16, "dx": 1, "color": "#000"},
             "encoding": {"x": {"datum": "2(0,1)3", "bandPosition": 0.5}, "y": {"datum": 0.895}}},
            {"data": {"values": [{}]}, "mark": {"type": "text", "text": "2", "align": "left", "baseline": "alphabetic", "fontSize": 16, "dx": 1, "color": "#000"},
             "encoding": {"x": {"datum": "2(0,1)3", "bandPosition": 0.5}, "y": {"datum": 0.69}}},
            {"data": {"values": [{}]}, "mark": {"type": "text", "text": ["Daejeon16", "Nₘₐₓ = 8", "ħω = 15.0"], "align": "right", "baseline": "alphabetic", "fontSize": 17, "lineHeight": 18, "color": "#999999"},
             "encoding": {"x": {"datum": "2(0,1)2", "bandPosition": 0.4}, "y": {"datum": 0.53}}}
          ]
        }
      ]
    }
  ]
}
